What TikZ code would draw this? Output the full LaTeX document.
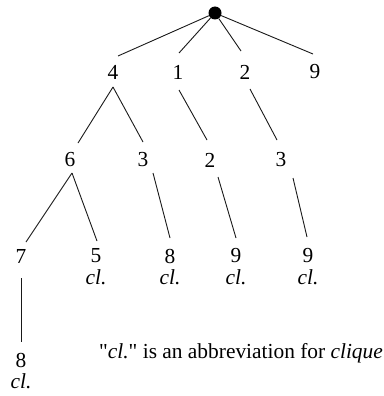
\documentclass[tikz,border=0pt]{standalone}
\usepackage{fontspec}
\setmainfont{Liberation Serif}[Ligatures=TeXOff]
\usepackage{tikz}
\usetikzlibrary{positioning,calc}

\tikzset{
  num/.style={font=\fontsize{21.4}{24}\selectfont, inner sep=0pt},
  cl/.style={font=\fontsize{21.4}{24}\selectfont\itshape, inner sep=0pt},
  edge/.style={line width=0.9pt, black!90}
}

\begin{document}
\begin{tikzpicture}[x=1pt, y=-1pt]
  \useasboundingbox (0,0) rectangle (383,396);

  % Root
  \node[circle, fill=black, inner sep=0pt, minimum size=13pt] (root) at (215,13) {};

  % Level 1
  \node[num] (a4) at (113,72) {4};
  \node[num] (a1) at (178,72) {1};
  \node[num] (a2) at (245,72) {2};
  \node[num] (a9) at (315,72) {9};

  % Level 2
  \node[num] (b6) at (70,160) {6};
  \node[num] (b3) at (143,160) {3};
  \node[num] (b2) at (210,160) {2};
  \node[num] (c3) at (281,160) {3};

  % Level 3
  \node[num] (d7) at (21,256) {7};
  \node[num] (d5) at (96,256) {5};
  \node[num] (d8) at (170,256) {8};
  \node[num] (d9) at (236,256) {9};
  \node[num] (e9) at (308,256) {9};
  \node[cl] (cl5) at (96,277) {cl.};
  \node[cl] (cl8) at (170,277) {cl.};
  \node[cl] (cl9) at (236,277) {cl.};
  \node[cl] (cle9) at (308,277) {cl.};

  % Level 4
  \node[num] (f8) at (21,360) {8};
  \node[cl] (clf8) at (21,381) {cl.};

  % Edges
  \draw[edge] (root) -- ([shift={(5,-16)}]a4.center);
  \draw[edge] (root) -- ([shift={(1,-19)}]a1.center);
  \draw[edge] (root) -- ([shift={(-4,-21)}]a2.center);
  \draw[edge] (root) -- ([shift={(-2,-18)}]a9.center);

  \draw[edge] ([shift={(0,15)}]a4.center) -- ([shift={(8,-17)}]b6.center);
  \draw[edge] ([shift={(0,15)}]a4.center) -- ([shift={(0,-18)}]b3.center);
  \draw[edge] ([shift={(1,18)}]a1.center) -- ([shift={(-3,-20)}]b2.center);
  \draw[edge] ([shift={(5,17)}]a2.center) -- ([shift={(-4,-20)}]c3.center);

  \draw[edge] ([shift={(2,13)}]b6.center) -- ([shift={(5,-14)}]d7.center);
  \draw[edge] ([shift={(2,13)}]b6.center) -- ([shift={(1,-15)}]d5.center);
  \draw[edge] ([shift={(10,13)}]b3.center) -- ([shift={(0,-18)}]d8.center);
  \draw[edge] ([shift={(8,17)}]b2.center) -- ([shift={(0,-18)}]d9.center);
  \draw[edge] ([shift={(12,18)}]c3.center) -- ([shift={(-1,-19)}]e9.center);

  \draw[edge] ([shift={(0,22)}]d7.center) -- ([shift={(0,-18)}]f8.center);

  % Note
  \node[num, anchor=base west] (note) at (99,358)
    {"\textit{cl.}" is an abbreviation for \textit{clique}};
\end{tikzpicture}
\end{document}
